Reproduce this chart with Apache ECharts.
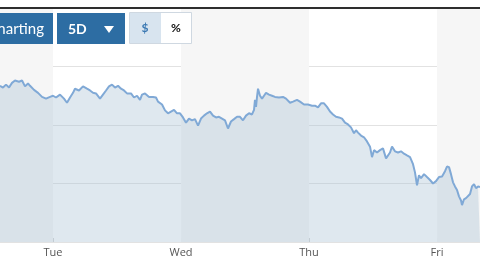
<!DOCTYPE html>
<html>
<head>
<meta charset="utf-8">
<script src="https://cdn.jsdelivr.net/npm/echarts@6/dist/echarts.min.js"></script>
<style>
html, body { margin: 0; padding: 0; background: #fff; }
#chart { width: 480px; height: 270px; }
</style>
</head>
<body>
<div id="chart"></div>
<script>
// hours since Monday 00:00
var times = [14.06, 14.62, 15.19, 15.75, 16.31, 16.87, 17.62, 18.19, 18.75, 19.31, 19.69, 20.44, 21.19, 21.94, 22.69, 23.44,
	24.00, 24.56, 25.31, 26.06, 26.62, 27.19, 27.75, 28.12, 28.87, 29.62, 30.37, 30.94, 31.50, 32.06, 32.81, 33.37, 33.94,
	34.50, 35.06, 35.62, 36.19, 36.75, 37.31, 37.87, 38.62, 39.19, 39.75, 40.31, 40.69, 41.25, 42.00, 42.75, 43.31, 43.69,
	44.44, 45.00, 45.56, 46.12, 46.69, 47.25, 47.81, 48.37, 48.94, 49.50, 50.06, 50.62, 51.19, 51.75, 52.31, 52.87, 53.44,
	54.00, 54.56, 55.12, 55.69, 56.25, 56.81, 57.37, 57.94, 58.50, 59.06, 59.62, 60.19, 60.75, 61.31, 61.69, 61.87, 62.06,
	62.25, 62.44, 62.81, 63.19, 63.56, 63.94, 64.50, 65.06, 65.62, 66.37, 67.12, 67.69, 68.44, 69.00, 69.75, 70.31, 71.06,
	71.81, 72.56, 73.12, 73.69, 74.25, 74.81, 75.37, 75.94, 76.50, 77.06, 77.62, 78.19, 78.75, 79.31, 79.87, 80.44, 80.81,
	81.19, 81.75, 82.31, 82.87, 83.44, 83.81, 84.19, 84.75, 85.31, 85.87, 86.44, 86.81, 87.19, 87.56, 88.12, 88.69, 89.25,
	89.81, 90.37, 90.94, 91.50, 91.87, 92.25, 92.62, 93.00, 93.56, 94.12, 94.69, 95.25, 95.81, 96.37, 96.94, 97.50, 97.87,
	98.25, 98.62, 99.00, 99.37, 99.75, 100.12, 100.50, 100.69, 101.06, 101.44, 101.81, 102.19, 102.56, 102.94, 103.31,
	103.69, 104.06];
var prices = [98.67, 98.64, 98.69, 98.64, 98.72, 98.76, 98.74, 98.76, 98.66, 98.71, 98.67, 98.60, 98.55, 98.48, 98.45, 98.48,
	98.50, 98.47, 98.52, 98.45, 98.38, 98.47, 98.55, 98.62, 98.59, 98.66, 98.62, 98.59, 98.55, 98.54, 98.45, 98.52, 98.59,
	98.66, 98.69, 98.64, 98.67, 98.62, 98.59, 98.54, 98.54, 98.47, 98.50, 98.43, 98.52, 98.54, 98.48, 98.48, 98.47, 98.40,
	98.35, 98.25, 98.20, 98.23, 98.26, 98.20, 98.20, 98.13, 98.04, 98.11, 98.08, 98.10, 97.99, 98.11, 98.16, 98.20, 98.23,
	98.16, 98.13, 98.14, 98.11, 98.08, 97.94, 98.06, 98.10, 98.14, 98.14, 98.08, 98.16, 98.20, 98.18, 98.26, 98.43, 98.31,
	98.48, 98.62, 98.50, 98.45, 98.50, 98.55, 98.52, 98.50, 98.48, 98.47, 98.48, 98.45, 98.38, 98.40, 98.43, 98.40, 98.35,
	98.35, 98.33, 98.33, 98.30, 98.37, 98.37, 98.31, 98.23, 98.18, 98.14, 98.13, 98.11, 98.04, 98.01, 97.96, 97.86, 97.91,
	97.87, 97.82, 97.79, 97.72, 97.63, 97.45, 97.57, 97.53, 97.57, 97.60, 97.43, 97.40, 97.53, 97.63, 97.55, 97.53, 97.55,
	97.51, 97.48, 97.45, 97.33, 97.19, 96.97, 97.14, 97.09, 97.16, 97.11, 97.06, 97.00, 97.04, 97.11, 97.12, 97.21, 97.29,
	97.28, 97.16, 97.02, 96.95, 96.89, 96.78, 96.71, 96.63, 96.73, 96.75, 96.78, 96.82, 96.95, 96.99, 96.92,
	96.95, 96.94];
var dayNames = ['Tue', 'Wed', 'Thu', 'Fri'];
var dayTicks = [24, 48, 72, 96];
var xMin = 14.06, xMax = 104.06;
var yMin = 96, yMax = 100;

var points = times.map(function (t, i) { return [t, prices[i]]; });

// shaded Mon / Wed / Fri columns
var bands = [[xMin, 24], [48, 72], [96, xMax]].map(function (b) {
	return [{ xAxis: b[0], yAxis: yMin }, { xAxis: b[1], yAxis: yMax }];
});

var myChart = echarts.init(document.getElementById('chart'));
myChart.setOption({
	animation: false,
	grid: { left: 0, right: 0, top: 8, bottom: 28 },
	xAxis: {
		type: 'value',
		min: xMin,
		max: xMax,
		axisLine: { show: false },
		splitLine: { show: false },
		axisTick: {
			show: true,
			inside: true,
			length: 4,
			customValues: dayTicks,
			lineStyle: { color: '#d0d0d0' }
		},
		axisLabel: {
			customValues: dayTicks,
			margin: 5,
			color: '#555',
			fontFamily: 'Open Sans',
			fontSize: 11,
			formatter: function (v) { return dayNames[dayTicks.indexOf(v)] || ''; }
		}
	},
	yAxis: {
		type: 'value',
		min: yMin,
		max: yMax,
		interval: 1,
		axisLine: { show: false },
		axisTick: { show: false },
		axisLabel: { show: false },
		splitLine: { lineStyle: { color: '#e2e2e2' } }
	},
	series: [{
		type: 'line',
		data: points,
		z: 0,
		silent: true,
		showSymbol: false,
		lineStyle: { width: 0 },
		markArea: {
			silent: true,
			itemStyle: { color: '#f6f6f6' },
			data: bands
		}
	}, {
		type: 'line',
		data: points,
		z: 2,
		showSymbol: false,
		lineStyle: { color: '#80a9d6', width: 2 },
		areaStyle: { color: 'rgba(175,197,215,0.4)', opacity: 1 }
	}],
	graphic: [
		{ type: 'rect', z: 100, shape: { x: 0, y: 7, width: 480, height: 2 }, style: { fill: '#2e2e2e' } },
		{ type: 'rect', z: 100, shape: { x: -10, y: 13, width: 63, height: 31 }, style: { fill: '#2d6da3' } },
		{ type: 'text', z: 101, x: 44, y: 29, style: { text: 'Charting', fill: '#fff', font: '15px Lato', align: 'right', verticalAlign: 'middle' } },
		{ type: 'rect', z: 100, shape: { x: 57, y: 13, width: 68, height: 31 }, style: { fill: '#2d6da3' } },
		{ type: 'text', z: 101, x: 68, y: 29, style: { text: '5D', fill: '#fff', font: 'bold 14px Lato', verticalAlign: 'middle' } },
		{ type: 'polygon', z: 101, shape: { points: [[104, 26], [114, 26], [109, 33]] }, style: { fill: '#fff' } },
		{ type: 'rect', z: 100, shape: { x: 129.5, y: 12.5, width: 62, height: 31 }, style: { fill: '#fff', stroke: '#cfd8e1', lineWidth: 1 } },
		{ type: 'rect', z: 101, shape: { x: 130, y: 13, width: 31, height: 30 }, style: { fill: '#d8e4ef' } },
		{ type: 'text', z: 102, x: 145, y: 28, style: { text: '$', fill: '#3a78b2', font: 'bold 12px Lato', align: 'center', verticalAlign: 'middle' } },
		{ type: 'text', z: 102, x: 176, y: 28, style: { text: '%', fill: '#111', font: 'bold 12px Lato', align: 'center', verticalAlign: 'middle' } }
	]
});
</script>
</body>
</html>
